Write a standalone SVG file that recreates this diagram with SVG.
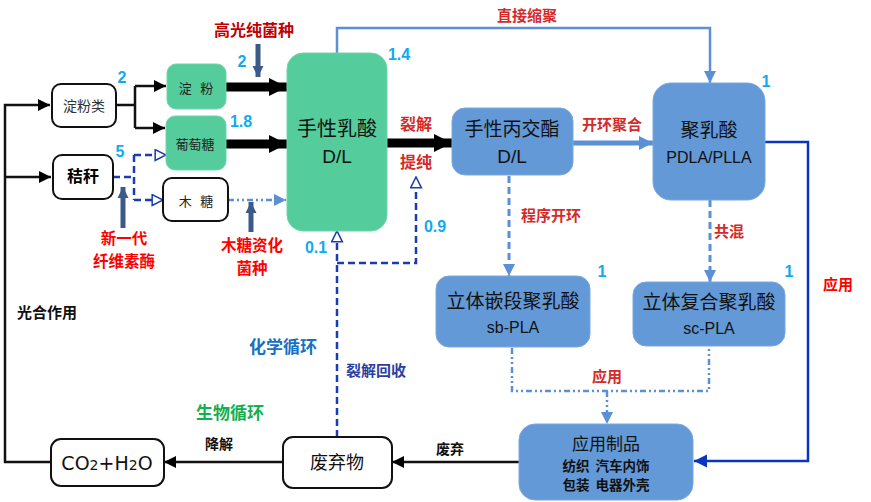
<svg xmlns="http://www.w3.org/2000/svg" width="871" height="502" viewBox="0 0 871 502">
<style>
text{font-family:"Noto Sans CJK SC","Liberation Sans",sans-serif;text-anchor:middle}
.num{font-family:"Liberation Sans","DejaVu Sans",sans-serif;font-weight:bold;fill:#10aaf0;font-size:16px}
.red{fill:#d42a2a;font-weight:bold;font-size:15px}
.bred{fill:#ff0000;font-weight:bold;font-size:15.5px}
.blk{fill:#111;font-size:14px;font-weight:bold}
.wbox{fill:#fff;stroke:#111;stroke-width:2}
.gbox{fill:#54cc9b;stroke:#6fd6ad;stroke-width:1}
.bbox{fill:#6399d6;stroke:#7aa8de;stroke-width:1}
.ln{fill:none;stroke:#111;stroke-width:2.5}
.thick{fill:none;stroke:#000;stroke-width:9}
.lb{fill:none;stroke:#5b8fd6;stroke-width:2.5}
.lbd{fill:none;stroke:#5b8fd6;stroke-width:3;stroke-dasharray:7 4}
.dd{fill:none;stroke:#5b8fd6;stroke-width:2.5;stroke-dasharray:6 3 2 3 2 3}
.db{fill:none;stroke:#1a3cb0;stroke-width:2.5;stroke-dasharray:7 4}
.slate{fill:none;stroke:#3a5b8a;stroke-width:5}
.ntxt{font-size:19px;fill:#111}
.sub{font-family:"Liberation Sans",sans-serif;font-size:16px;fill:#111}
</style>
<defs>
<marker id="aBlk" viewBox="0 0 10 10" refX="10" refY="5" markerWidth="12" markerHeight="12" markerUnits="userSpaceOnUse" orient="auto"><path d="M0,0 L10,5 L0,10 z" fill="#000"/></marker>
<marker id="aThick" viewBox="0 0 10 10" refX="10" refY="5" markerWidth="18" markerHeight="22" markerUnits="userSpaceOnUse" orient="auto"><path d="M0,0 L10,5 L0,10 z" fill="#000"/></marker>
<marker id="aLb" viewBox="0 0 10 10" refX="10" refY="5" markerWidth="12" markerHeight="12" markerUnits="userSpaceOnUse" orient="auto"><path d="M0,0 L10,5 L0,10 z" fill="#5b8fd6"/></marker>
<marker id="aLbBig" viewBox="0 0 10 10" refX="10" refY="5" markerWidth="14" markerHeight="18" markerUnits="userSpaceOnUse" orient="auto"><path d="M0,0 L10,5 L0,10 z" fill="#5b8fd6"/></marker>
<marker id="aDb" viewBox="0 0 10 10" refX="10" refY="5" markerWidth="13" markerHeight="14" markerUnits="userSpaceOnUse" orient="auto"><path d="M0,0 L10,5 L0,10 z" fill="#0a35c0"/></marker>
<marker id="aHol" viewBox="-1 -1 12 12" refX="10" refY="5" markerWidth="13" markerHeight="13" markerUnits="userSpaceOnUse" orient="auto"><path d="M0,0 L10,5 L0,10 z" fill="#fff" stroke="#1a3cb0" stroke-width="1.4"/></marker>
<marker id="aSl" viewBox="0 0 10 10" refX="10" refY="5" markerWidth="11" markerHeight="13" markerUnits="userSpaceOnUse" orient="auto"><path d="M0,0 L10,5 L0,10 z" fill="#3a5b8a"/></marker>
</defs>
<rect width="871" height="502" fill="#fff"/>

<g id="connectors">
<path class="ln" d="M51,462 H5 V105 H50" marker-end="url(#aBlk)"/>
<path class="ln" d="M5,177 H51" marker-end="url(#aBlk)"/>
<path class="ln" d="M116,105 H135 M135,86 V128"/>
<path class="ln" d="M135,86 H166" marker-end="url(#aBlk)"/>
<path class="ln" d="M135,128 H165" marker-end="url(#aBlk)"/>
<path class="thick" d="M226,87 H287" marker-end="url(#aThick)"/>
<path class="thick" d="M226,144 H287" marker-end="url(#aThick)"/>
<path class="dd" d="M228,200 H286" marker-end="url(#aLb)"/>
<path class="db" d="M113,177 H134 M134,155 V200"/>
<path class="db" d="M134,155 H166" marker-end="url(#aHol)"/>
<path class="db" d="M134,200 H163" marker-end="url(#aHol)"/>
<path class="thick" d="M387,143 H452" marker-end="url(#aThick)"/>
<path class="lb" d="M573,143 H653" style="stroke-width:5" marker-end="url(#aLbBig)"/>
<path class="lb" d="M337,53 V28 H710 V83" marker-end="url(#aLb)"/>
<path d="M765,142 H808 V461 H694" fill="none" stroke="#0a35c0" stroke-width="2.5" marker-end="url(#aDb)"/>
<path class="lbd" d="M509,176 V276" marker-end="url(#aLb)"/>
<path class="lbd" d="M710,200 V282" marker-end="url(#aLb)"/>
<path class="dd" d="M512,348 V391 H709 V346"/>
<path class="dd" d="M607,391 V424" marker-end="url(#aLb)"/>
<path class="ln" d="M519,462 H392" marker-end="url(#aBlk)"/>
<path class="ln" d="M283,462 H164" marker-end="url(#aBlk)"/>
<path class="db" d="M337,437 V231" marker-end="url(#aHol)"/>
<path class="db" d="M337,263 H416 V177" marker-end="url(#aHol)"/>
<path class="slate" d="M258,44 V77" marker-end="url(#aSl)"/>
<path class="slate" d="M123,228 V187" marker-end="url(#aSl)"/>
<path class="slate" d="M251,232 V202" marker-end="url(#aSl)"/>
</g>

<g id="n-dianfenlei"><rect class="wbox" x="52" y="84" width="64" height="43" rx="9"/><text x="84" y="111" style="font-size:14px;fill:#333">淀粉类</text></g>
<g id="n-jiegan"><rect class="wbox" x="53" y="155" width="60" height="44" rx="9"/><text x="83" y="182" style="font-size:16px;font-weight:bold;fill:#000">秸秆</text></g>
<g id="n-dianfen"><rect class="gbox" x="167" y="64" width="59" height="45" rx="9"/><text x="196" y="93" style="font-size:13px;fill:#222" xml:space="preserve">淀   粉</text></g>
<g id="n-putaotang"><rect class="gbox" x="166" y="116" width="60" height="54" rx="9"/><text x="195" y="149" style="font-size:13px;fill:#222">葡萄糖</text></g>
<g id="n-mutang"><rect class="wbox" x="163" y="178" width="65" height="43" rx="9"/><text x="196" y="206" style="font-size:13px;fill:#222" xml:space="preserve">木   糖</text></g>
<g id="n-rusuan"><rect class="gbox" x="287" y="53" width="100" height="178" rx="16"/><text class="ntxt" x="337" y="136" style="font-size:20px">手性乳酸</text><text x="337" y="163" style="font-family:'Liberation Sans',sans-serif;font-size:19px;fill:#111">D/L</text></g>
<g id="n-bingjiaozhi"><rect class="bbox" x="452" y="108" width="121" height="67" rx="13"/><text class="ntxt" x="512" y="136">手性丙交酯</text><text x="512" y="163" style="font-family:'Liberation Sans',sans-serif;font-size:19px;fill:#111">D/L</text></g>
<g id="n-julusuan"><rect class="bbox" x="653" y="83" width="112" height="117" rx="18"/><text class="ntxt" x="709" y="137">聚乳酸</text><text class="sub" x="709" y="163">PDLA/PLLA</text></g>
<g id="n-sb"><rect class="bbox" x="436" y="276" width="154" height="71" rx="13"/><text class="ntxt" x="513" y="308">立体嵌段聚乳酸</text><text class="sub" x="513" y="333">sb-PLA</text></g>
<g id="n-sc"><rect class="bbox" x="633" y="282" width="152" height="64" rx="13"/><text class="ntxt" x="709" y="309">立体复合聚乳酸</text><text class="sub" x="709" y="334">sc-PLA</text></g>
<g id="n-yingyong"><rect class="bbox" x="519" y="424" width="174" height="76" rx="16"/><text x="606" y="450" style="font-size:17px;fill:#111">应用制品</text><text x="606" y="471" style="font-size:13.5px;fill:#111;font-weight:bold" xml:space="preserve">纺织  汽车内饰</text><text x="606" y="490" style="font-size:13.5px;fill:#111;font-weight:bold" xml:space="preserve">包装  电器外壳</text></g>
<g id="n-feiqiwu"><rect class="wbox" x="283" y="437" width="109" height="51" rx="10"/><text x="337" y="469" style="font-size:18px;fill:#111">废弃物</text></g>
<g id="n-co2"><rect class="wbox" x="51" y="439" width="113" height="47" rx="10"/><text x="107" y="470" style="font-family:'DejaVu Sans',sans-serif;font-size:19px;fill:#111">CO<tspan style="font-size:14px">2</tspan>+H<tspan style="font-size:14px">2</tspan>O</text></g>

<g id="labels">
<text x="254" y="36" style="fill:#c00000;font-weight:bold;font-size:16px">高光纯菌种</text>
<text class="num" x="122" y="83">2</text>
<text class="num" x="242" y="67">2</text>
<text class="num" x="241" y="127">1.8</text>
<text class="num" x="120" y="157">5</text>
<text class="bred" x="124" y="244">新一代</text>
<text class="bred" x="124" y="267">纤维素酶</text>
<text class="bred" x="252" y="251">木糖资化</text>
<text class="bred" x="252" y="274">菌种</text>
<text class="num" x="399" y="60">1.4</text>
<text class="red" x="527" y="21">直接缩聚</text>
<text class="red" x="416" y="130" style="font-size:16px">裂解</text>
<text class="red" x="416" y="168" style="font-size:16px">提纯</text>
<text class="red" x="612" y="130">开环聚合</text>
<text class="num" x="766" y="87">1</text>
<text class="red" x="551" y="221">程序开环</text>
<text class="red" x="729" y="237">共混</text>
<text class="num" x="602" y="277">1</text>
<text class="num" x="789" y="277">1</text>
<text x="838" y="290" style="fill:#ff0000;font-weight:bold;font-size:15px">应用</text>
<text class="red" x="607" y="382">应用</text>
<text class="num" x="316" y="253">0.1</text>
<text class="num" x="435" y="232">0.9</text>
<text x="376" y="376" style="fill:#2a3fa0;font-weight:bold;font-size:15px">裂解回收</text>
<text x="283" y="353" style="fill:#1670c4;font-weight:bold;font-size:17px">化学循环</text>
<text x="230" y="419" style="fill:#12b04e;font-weight:bold;font-size:17px">生物循环</text>
<text class="blk" x="47" y="318" style="font-size:15px">光合作用</text>
<text class="blk" x="219" y="449">降解</text>
<text class="blk" x="450" y="454">废弃</text>
</g>
</svg>
